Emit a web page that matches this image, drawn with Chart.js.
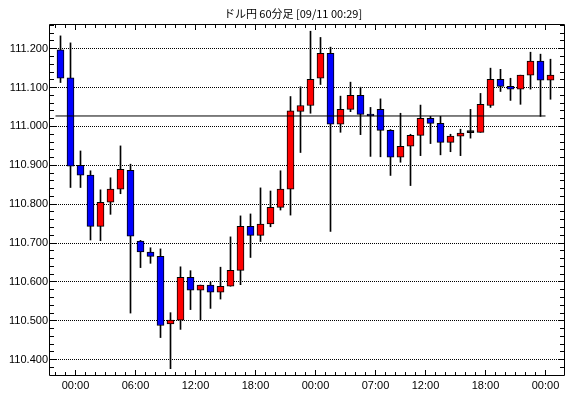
<!DOCTYPE html>
<html>
<head>
<meta charset="utf-8">
<title>ドル円 60分足</title>
<script src="https://cdn.jsdelivr.net/npm/chart.js"></script>
<style>
  body { margin: 0; background: #fff; }
  #wrap { width: 570px; height: 398px; }
</style>
</head>
<body>
<div id="wrap"><canvas id="candleChart"></canvas></div>
<script>
// hourly candles, 09/09 22:00 -> 09/11 00:00 (06:00 on the 10th is missing)
const hours = ['22:00','23:00','00:00','01:00','02:00','03:00','04:00','05:00','06:00','07:00',
  '08:00','09:00','10:00','11:00','12:00','13:00','14:00','15:00','16:00','17:00',
  '18:00','19:00','20:00','21:00','22:00','23:00','00:00','01:00','02:00','03:00',
  '04:00','05:00','07:00','08:00','09:00','10:00','11:00','12:00','13:00','14:00',
  '15:00','16:00','17:00','18:00','19:00','20:00','21:00','22:00','23:00','00:00'];
const openP = [111.197,111.125,110.900,110.875,110.743,110.805,110.839,110.887,110.705,110.677,
  110.666,110.492,110.502,110.612,110.579,110.592,110.574,110.589,110.630,110.743,
  110.720,110.749,110.792,110.839,111.039,111.054,111.124,111.188,111.006,111.044,
  111.080,111.031,111.044,110.990,110.921,110.949,110.977,111.021,111.008,110.959,
  110.975,110.984,110.985,111.054,111.121,111.103,111.096,111.132,111.168,111.119];
const highP = [111.233,111.215,110.937,110.886,110.837,110.868,110.950,110.903,110.707,110.688,
  110.685,110.521,110.639,110.629,110.592,110.600,110.638,110.716,110.770,110.775,
  110.842,110.834,110.886,111.077,111.102,111.245,111.229,111.204,111.078,111.114,
  111.101,111.049,111.071,110.992,111.034,110.980,111.055,111.026,111.026,110.980,
  110.993,111.044,111.085,111.150,111.147,111.124,111.132,111.191,111.186,111.173];
const lowP = [111.113,110.843,110.843,110.708,110.706,110.774,110.827,110.520,110.637,110.648,
  110.457,110.377,110.478,110.529,110.503,110.532,110.556,110.589,110.593,110.663,
  110.704,110.742,110.785,110.772,110.933,111.034,111.108,110.730,110.985,111.038,
  110.979,110.923,110.922,110.874,110.908,110.848,110.925,110.956,110.927,110.935,
  110.925,110.970,110.985,111.049,111.090,111.067,111.057,111.096,111.026,111.070];
const closeP = [111.124,110.898,110.875,110.743,110.805,110.839,110.890,110.718,110.677,110.666,
  110.488,110.502,110.612,110.579,110.592,110.574,110.589,110.630,110.743,110.720,
  110.749,110.792,110.839,111.040,111.054,111.121,111.188,111.006,111.044,111.080,
  111.031,111.027,110.990,110.921,110.949,110.977,111.021,111.008,110.959,110.975,
  110.983,110.984,111.057,111.121,111.103,111.096,111.132,111.168,111.119,111.132];
const refLine = 111.027;           // horizontal reference price
const refFrom = 0, refTo = 48;     // candles the line runs across
const majorHours = ['00:00','06:00','12:00','18:00'];
const titleText = 'ドル円 60分足 [09/11 00:29]';

const hourNum = h => parseInt(h, 10);
function isMajor(i) {
  if (i < 0 || i >= hours.length) return false;
  if (majorHours.includes(hours[i])) return true;
  if (i === 0) return false;
  return (hourNum(hours[i]) - hourNum(hours[i - 1]) + 24) % 24 > 1; // first candle after a gap
}

const bodies = hours.map((h, i) => ({ x: i, y: [openP[i], closeP[i]] }));
const wicks = hours.map((h, i) => ({ x: i, y: [lowP[i], highP[i]] }));
const bodyColors = hours.map((h, i) =>
  closeP[i] > openP[i] ? '#ff0000' : closeP[i] < openP[i] ? '#0000ff' : '#000000');

const labelFont = { family: 'Liberation Sans', size: 11 };

// frame, inward tick marks and the title, like the original
const frameTicks = {
  id: 'frameTicks',
  afterDraw(chart) {
    const { ctx, chartArea: a, scales: { x, y } } = chart;
    ctx.save();
    ctx.strokeStyle = '#000';
    ctx.lineWidth = 1;
    ctx.beginPath();
    ctx.rect(a.left - 0.5, a.top - 0.5, a.right - a.left + 1, a.bottom - a.top + 1);
    x.ticks.forEach(t => {
      const px = Math.floor(x.getPixelForValue(t.value)) + 0.5;
      if (px < a.left || px > a.right) return;
      const len = t.label ? 5 : 3;
      ctx.moveTo(px, a.bottom); ctx.lineTo(px, a.bottom - len);
      ctx.moveTo(px, a.top); ctx.lineTo(px, a.top + len);
    });
    for (let k = Math.ceil(y.min / 0.02); k * 0.02 <= y.max; k++) {
      const py = Math.floor(y.getPixelForValue(k * 0.02)) + 0.5;
      const len = k % 5 === 0 ? 6 : 4;
      ctx.moveTo(a.left, py); ctx.lineTo(a.left + len, py);
      ctx.moveTo(a.right, py); ctx.lineTo(a.right - len, py);
    }
    ctx.stroke();

    ctx.fillStyle = '#000';
    ctx.font = '11px "Noto Sans CJK JP"';
    ctx.textAlign = 'center';
    ctx.textBaseline = 'middle';
    ctx.fillText(titleText, 293, 13.5);
    ctx.restore();
  }
};

new Chart(document.getElementById('candleChart'), {
  type: 'bar',
  data: {
    datasets: [
      {
        type: 'line',
        data: [{ x: refFrom - 0.5, y: refLine }, { x: refTo + 0.5, y: refLine }],
        borderColor: '#000',
        borderWidth: 1,
        pointRadius: 0,
        order: 0
      },
      {
        data: bodies,
        backgroundColor: bodyColors,
        borderColor: '#000',
        borderWidth: 1,
        borderSkipped: false,
        barThickness: 7,
        minBarLength: 2,
        grouped: false,
        order: 1
      },
      {
        data: wicks,
        backgroundColor: '#000',
        borderWidth: 0,
        barThickness: 1,
        grouped: false,
        order: 2
      }
    ]
  },
  options: {
    responsive: true,
    maintainAspectRatio: false,
    animation: false,
    layout: { padding: { left: 0, right: 6, top: 25, bottom: 0 } },
    plugins: {
      legend: { display: false },
      tooltip: { enabled: false },
      title: { display: false }
    },
    scales: {
      x: {
        type: 'linear',
        min: -1.05,
        max: 50.35,
        offset: false,
        afterFit: s => { s.height = 23; },
        afterBuildTicks: s => {
          s.ticks = hours.map((h, i) => ({ value: i - 0.5 }));
        },
        grid: { display: false, drawTicks: false },
        border: { display: false },
        ticks: {
          autoSkip: false,
          maxRotation: 0,
          padding: 4,
          color: '#000',
          font: labelFont,
          callback: v => {
            const i = Math.round(v + 0.5);
            return isMajor(i) ? hours[i] : '';
          }
        }
      },
      y: {
        min: 110.3607,
        max: 111.261,
        afterFit: s => { s.width = 50; },
        grid: { color: '#000', lineWidth: 1, drawTicks: false },
        border: { display: false, dash: [1, 1] },
        ticks: {
          stepSize: 0.1,
          includeBounds: false,
          padding: 2,
          color: '#000',
          font: labelFont,
          callback: v => Number(v).toFixed(3)
        }
      }
    }
  },
  plugins: [frameTicks]
});
</script>
</body>
</html>
